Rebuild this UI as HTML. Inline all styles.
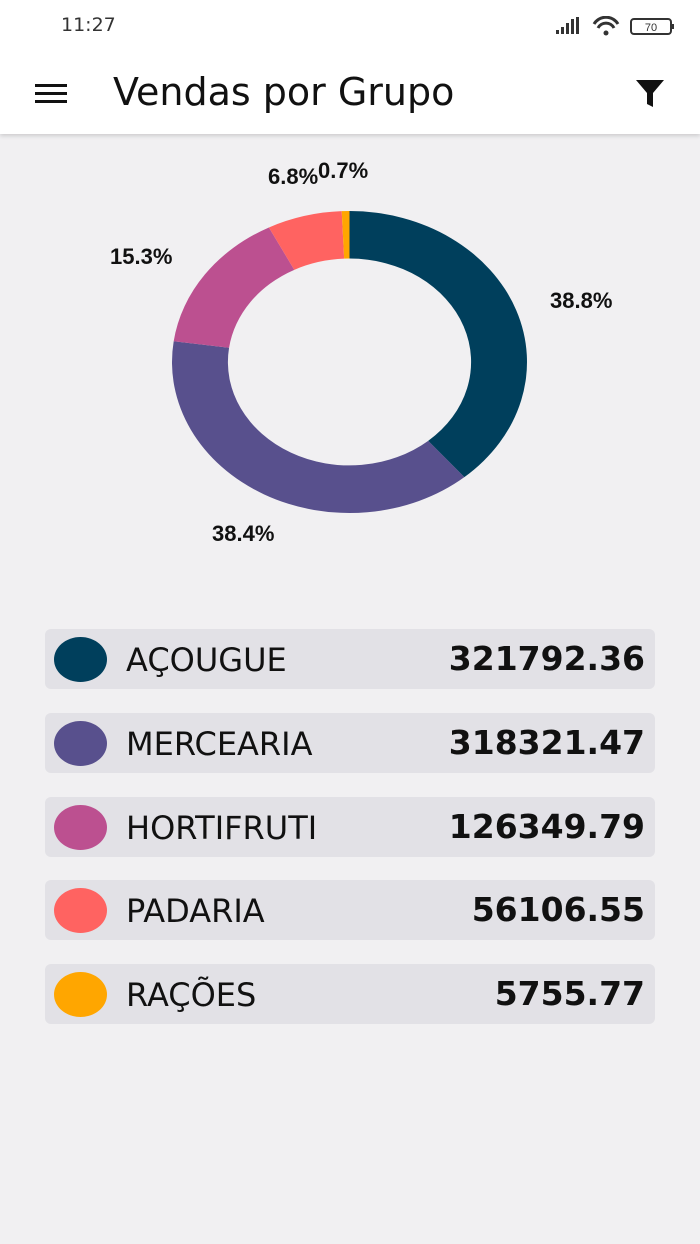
<!DOCTYPE html>
<html><head><meta charset="utf-8"><style>
body{margin:0;width:700px;height:1244px;background:#f1f0f2;font-family:"DejaVu Sans","Liberation Sans",sans-serif;position:relative;overflow:hidden}
.hdr{position:absolute;left:0;top:0;width:700px;height:134px;background:#fff;box-shadow:0 2px 4px rgba(0,0,0,0.15)}
.t{position:absolute;color:#111}
.row{position:absolute;left:45px;width:610px;height:60px;background:#e2e1e6;border-radius:6px}
.dot{position:absolute;left:9px;top:8px;width:53px;height:45px;border-radius:50%}
.lbl{position:absolute;left:81px;top:12px;font-size:32px;color:#111;line-height:38px}
.val{position:absolute;right:10px;top:10px;font-size:33px;font-weight:bold;color:#111;line-height:40px}
.pl{position:absolute;font-family:"Liberation Sans",sans-serif;font-weight:bold;font-size:22px;color:#111;line-height:24px}
</style></head><body>
<div class="hdr">
<div class="t" style="left:61px;top:14px;font-size:19px;color:#333">11:27</div>
<svg style="position:absolute;left:556px;top:16px" width="150" height="22">
<rect x="0" y="14" width="3" height="4" fill="#333"/><rect x="5" y="11" width="3" height="7" fill="#333"/><rect x="10" y="7" width="3" height="11" fill="#333"/><rect x="15" y="3" width="3" height="15" fill="#333"/><rect x="20" y="1" width="3" height="17" fill="#333"/>
<path d="M38 8 A14 14 0 0 1 62 8" stroke="#333" stroke-width="3" fill="none"/><path d="M42 12 A9 9 0 0 1 58 12" stroke="#333" stroke-width="3" fill="none"/><circle cx="50" cy="17" r="2.5" fill="#333"/>
<rect x="75" y="3" width="40" height="15" rx="3" fill="none" stroke="#333" stroke-width="2"/><rect x="116" y="8" width="2" height="5" fill="#333"/>
<text x="95" y="15" font-size="11" text-anchor="middle" fill="#333" font-family="Liberation Sans">70</text></svg>
<div style="position:absolute;left:35px;top:84px;width:32px;height:3px;background:#111"></div>
<div style="position:absolute;left:35px;top:92px;width:32px;height:3px;background:#111"></div>
<div style="position:absolute;left:35px;top:100px;width:32px;height:3px;background:#111"></div>
<div class="t" style="left:113px;top:68px;font-size:38px;line-height:48px">Vendas por Grupo</div>
<svg style="position:absolute;left:635px;top:79px" width="32" height="30"><path d="M1 1 H29 L18 14 V28 L12 25 V14 Z" fill="#111"/></svg>
</div>
<svg id="d" style="position:absolute;left:0;top:0" width="700" height="700"></svg>
<script>
(function(){
var s=document.getElementById('d'),cx=349.5,cy=362,rx=177.5,ry=151,k=0.685;
var v=[38.8,38.4,15.3,6.8,0.7],c=['#003f5c','#58508d','#bc5090','#ff6361','#ffa600'],a=0,h='';
function p(t,f){return (cx+rx*f*Math.sin(t)).toFixed(2)+' '+(cy-ry*f*Math.cos(t)).toFixed(2);}
for(var i=0;i<5;i++){var b=a+v[i]/100*2*Math.PI,l=(b-a)>Math.PI?1:0;
h+='<path fill="'+c[i]+'" d="M'+p(a,1)+' A'+rx+' '+ry+' 0 '+l+' 1 '+p(b,1)+' L'+p(b,k)+' A'+(rx*k)+' '+(ry*k)+' 0 '+l+' 0 '+p(a,k)+' Z"/>';a=b;}
s.innerHTML=h;})();
</script>
<div class="pl" style="left:550px;top:289px">38.8%</div>
<div class="pl" style="left:212px;top:522px">38.4%</div>
<div class="pl" style="left:110px;top:245px">15.3%</div>
<div class="pl" style="left:268px;top:165px">6.8%</div>
<div class="pl" style="left:318px;top:159px">0.7%</div>
<div class="row" style="top:629px"><div class="dot" style="background:#003f5c"></div><div class="lbl">AÇOUGUE</div><div class="val">321792.36</div></div>
<div class="row" style="top:713px"><div class="dot" style="background:#58508d"></div><div class="lbl">MERCEARIA</div><div class="val">318321.47</div></div>
<div class="row" style="top:797px"><div class="dot" style="background:#bc5090"></div><div class="lbl">HORTIFRUTI</div><div class="val">126349.79</div></div>
<div class="row" style="top:880px"><div class="dot" style="background:#ff6361"></div><div class="lbl">PADARIA</div><div class="val">56106.55</div></div>
<div class="row" style="top:964px"><div class="dot" style="background:#ffa600"></div><div class="lbl">RAÇÕES</div><div class="val">5755.77</div></div>
</body></html>
